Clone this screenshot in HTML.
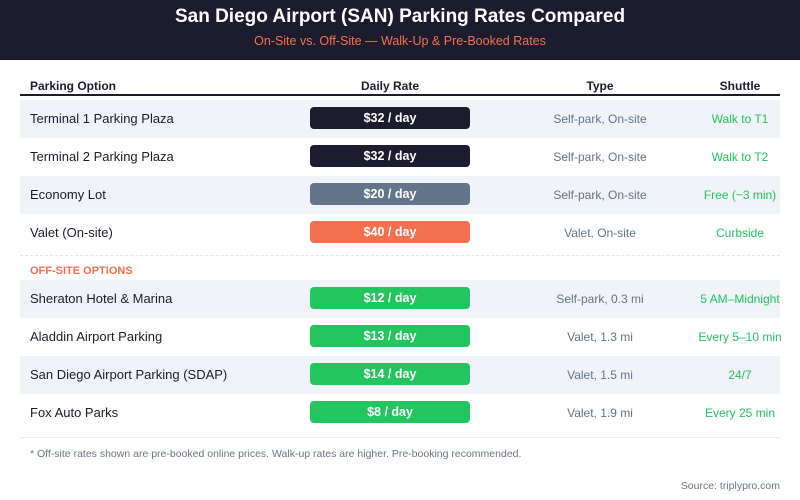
<!DOCTYPE html>
<html><head><meta charset="utf-8"><style>
body{margin:0;width:800px;height:500px;background:#fff;font-family:"Liberation Sans",sans-serif;position:relative;overflow:hidden}
.a{position:absolute}
</style></head><body>
<div class="a" style="left:0;top:0;width:800px;height:60px;background:#1c1c2e"></div>
<div class="a" style="left:0;top:6px;width:800px;text-align:center;color:#fff;font-weight:bold;font-size:19px">San Diego Airport (SAN) Parking Rates Compared</div>
<div class="a" style="left:0;top:34px;width:800px;text-align:center;color:#f4704f;font-size:12.5px">On-Site vs. Off-Site — Walk-Up &amp; Pre-Booked Rates</div>
<div class="a" style="left:30px;top:79px;font-size:12px;font-weight:bold;color:#1c1c2e">Parking Option</div>
<div class="a" style="left:310px;width:160px;text-align:center;top:79px;font-size:12px;font-weight:bold;color:#1c1c2e">Daily Rate</div>
<div class="a" style="left:530px;width:140px;text-align:center;top:79px;font-size:12px;font-weight:bold;color:#1c1c2e">Type</div>
<div class="a" style="left:690px;width:100px;text-align:center;top:79px;font-size:12px;font-weight:bold;color:#1c1c2e">Shuttle</div>
<div class="a" style="left:20px;top:94px;width:760px;height:2px;background:#1c1c2e"></div>
<div class="a" style="left:20px;top:255px;width:760px;border-top:1px dashed #e2e6ee"></div>
<div class="a" style="left:30px;top:265px;font-size:11px;font-weight:bold;color:#f4704f">OFF-SITE OPTIONS</div>
<div class="a" style="left:20px;top:437px;width:760px;height:1px;background:#e8ecf2"></div>
<div class="a" style="left:30px;top:448px;font-size:10.5px;color:#6b7588">* Off-site rates shown are pre-booked online prices. Walk-up rates are higher. Pre-booking recommended.</div>
<div class="a" style="right:20px;top:480px;font-size:10.5px;color:#6b7588">Source: triplypro.com</div>
<div id="rows"></div>
<script>
const names=["Terminal 1 Parking Plaza","Terminal 2 Parking Plaza","Economy Lot","Valet (On-site)","Sheraton Hotel & Marina","Aladdin Airport Parking","San Diego Airport Parking (SDAP)","Fox Auto Parks"];
const rates=[32,32,20,40,12,13,14,8];
const types=["Self-park, On-site","Self-park, On-site","Self-park, On-site","Valet, On-site","Self-park, 0.3 mi","Valet, 1.3 mi","Valet, 1.5 mi","Valet, 1.9 mi"];
const shuttles=["Walk to T1","Walk to T2","Free (~3 min)","Curbside","5 AM–Midnight","Every 5–10 min","24/7","Every 25 min"];
const colors=["#1c1c2e","#1c1c2e","#64748b","#f4704f","#22c55e","#22c55e","#22c55e","#22c55e"];
const root=document.getElementById('rows');
function rowY(i){return i<4?100+i*38:280+(i-4)*38;}
names.forEach((n,i)=>{
  const y=rowY(i);
  const bg=document.createElement('div');bg.className='a';
  
  
  bg.style.cssText=`left:20px;top:${y}px;width:760px;height:38px;background:${i%2==0?'#f0f3f8':'#fff'}`;
  root.appendChild(bg);
  const nm=document.createElement('div');nm.className='a';
  
  
  nm.style.cssText=`left:30px;top:${y+11}px;font-size:13px;color:#1c1c2e`;
  nm.textContent=n;root.appendChild(nm);
  const b=document.createElement('div');b.className='a';
  
  
  b.style.cssText=`left:310px;top:${y+7}px;width:160px;height:22px;line-height:22px;border-radius:4px;text-align:center;color:#fff;font-weight:bold;font-size:12.5px;background:${colors[i]}`;
  b.textContent='$'+rates[i]+' / day';root.appendChild(b);
  const t=document.createElement('div');t.className='a';
  
  
  t.style.cssText=`left:530px;width:140px;text-align:center;top:${y+12}px;font-size:12px;color:#64748b`;
  t.textContent=types[i];root.appendChild(t);
  const s=document.createElement('div');s.className='a';
  
  
  s.style.cssText=`left:680px;width:120px;text-align:center;top:${y+12}px;font-size:12px;color:#22c55e;white-space:nowrap`;
  s.textContent=shuttles[i];root.appendChild(s);
});
</script>
</body></html>
